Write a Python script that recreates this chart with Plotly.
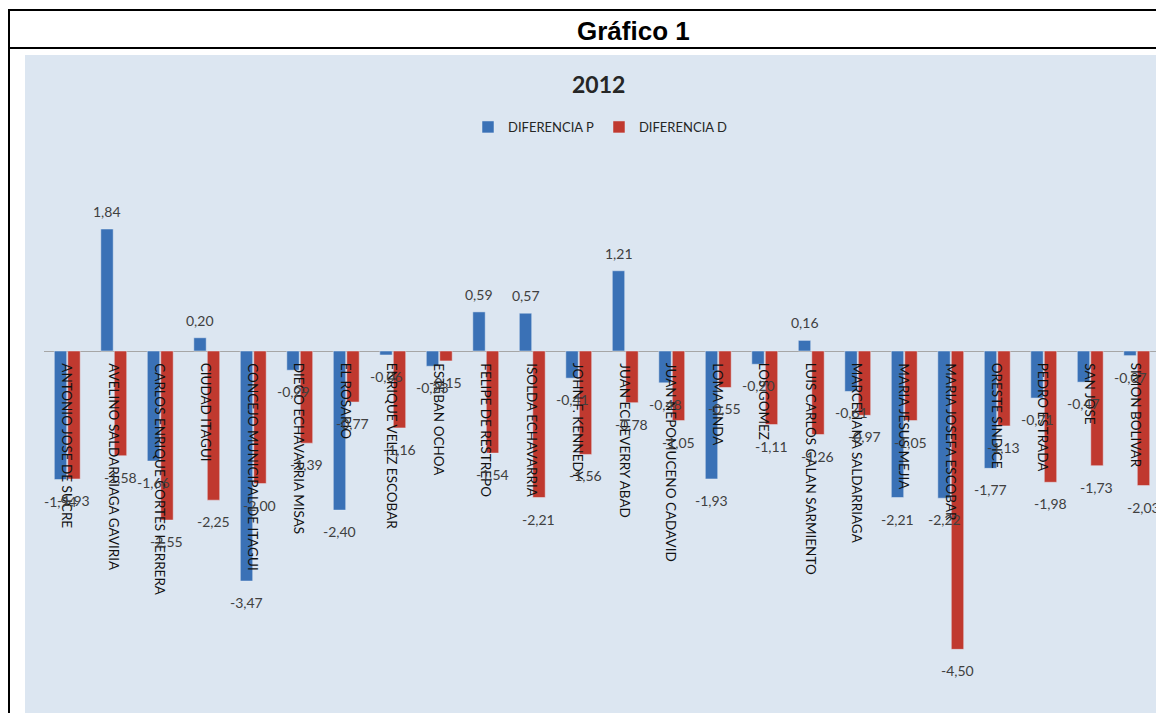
import plotly.graph_objects as go

categories = [
    "ANTONIO JOSE DE SUCRE", "AVELINO SALDARRIAGA GAVIRIA", "CARLOS ENRIQUE CORTES HERRERA",
    "CIUDAD ITAGUI", "CONCEJO MUNICIPAL DE ITAGUI", "DIEGO ECHAVARRIA MISAS", "EL ROSARIO",
    "ENRIQUE VELEZ ESCOBAR", "ESTEBAN OCHOA", "FELIPE DE RESTREPO", "ISOLDA ECHAVARRIA",
    "JOHN F. KENNEDY", "JUAN ECHEVERRY ABAD", "JUAN NEPOMUCENO CADAVID", "LOMA LINDA",
    "LOS GOMEZ", "LUIS CARLOS GALAN SARMIENTO", "MARCELIANA SALDARRIAGA", "MARIA JESUS MEJIA",
    "MARIA JOSEFA ESCOBAR", "ORESTE SINDICE", "PEDRO ESTRADA", "SAN JOSE", "SIMON BOLIVAR",
]
diferencia_p = [-1.94, 1.84, -1.66, 0.20, -3.47, -0.29, -2.40, -0.06, -0.23, 0.59, 0.57, -0.41,
                1.21, -0.48, -1.93, -0.20, 0.16, -0.61, -2.21, -2.22, -1.77, -0.71, -0.47, -0.07]
diferencia_d = [-1.93, -1.58, -2.55, -2.25, -2.00, -1.39, -0.77, -1.16, -0.15, -1.54, -2.21, -1.56,
                -0.78, -1.05, -0.55, -1.11, -1.26, -0.97, -1.05, -4.50, -1.13, -1.98, -1.73, -2.03]

W, H = 1156, 713


def px(x):
    return x / W


def py(y):
    return 1 - y / H


BLUE = "#3a71b6"
RED = "#c0392f"
FONT = "Lato, Open Sans, sans-serif"
LBL = dict(family=FONT, size=14, color="#404040")

idx = list(range(len(categories)))
BARGAP = 0.42
half_slot = (1 - BARGAP) / 4  # centre offset of each bar inside a group

fig = go.Figure()
fig.add_trace(go.Bar(name="DIFERENCIA P", x=idx, y=diferencia_p, marker_color=BLUE,
                     textposition="none", hoverinfo="y"))
fig.add_trace(go.Bar(name="DIFERENCIA D", x=idx, y=diferencia_d, marker_color=RED,
                     textposition="none", hoverinfo="y"))

zero_px = 351
ppu = 66.3
y_top = zero_px / ppu
y_bot = -(H - zero_px) / ppu

left_px = 44
group_w = 46.5
x_end = -0.5 + (W - left_px) / group_w

fig.update_layout(
    width=W, height=H,
    margin=dict(l=0, r=0, t=0, b=0),
    paper_bgcolor="white",
    plot_bgcolor="rgba(0,0,0,0)",
    separators=",.",
    barmode="group", bargap=BARGAP, bargroupgap=0.08,
    showlegend=True,
    legend=dict(orientation="h", x=px(600), xanchor="center", y=py(127), yanchor="middle",
                font=dict(family=FONT, size=13, color="#262626"),
                bgcolor="rgba(0,0,0,0)", traceorder="normal"),
    xaxis=dict(domain=[px(left_px), 1], range=[-0.5, x_end], showticklabels=False,
               showgrid=False, zeroline=False, fixedrange=True),
    yaxis=dict(domain=[0, 1], range=[y_bot, y_top], showticklabels=False, showgrid=False,
               zeroline=True, zerolinecolor="#a6a6a6", zerolinewidth=1.2, fixedrange=True),
)

shapes = [
    dict(type="rect", xref="paper", yref="paper", x0=px(25), x1=1.0, y0=0, y1=py(55),
         fillcolor="#dce6f1", line=dict(width=0), layer="below"),
    dict(type="line", xref="paper", yref="paper", x0=px(8), x1=1.0, y0=py(10), y1=py(10),
         line=dict(color="black", width=2)),
    dict(type="line", xref="paper", yref="paper", x0=px(8), x1=1.0, y0=py(48), y1=py(48),
         line=dict(color="black", width=2)),
    dict(type="line", xref="paper", yref="paper", x0=px(9), x1=px(9), y0=0, y1=py(10),
         line=dict(color="black", width=2)),
]
fig.update_layout(shapes=shapes)

annotations = [
    dict(text="<b>Gráfico 1</b>", xref="paper", yref="paper", x=px(633), y=py(31),
         xanchor="center", yanchor="middle", showarrow=False,
         font=dict(family="Liberation Sans, Arial, sans-serif", size=26, color="black")),
    dict(text="<b>2012</b>", xref="paper", yref="paper", x=px(598), y=py(84),
         xanchor="center", yanchor="middle", showarrow=False,
         font=dict(family=FONT, size=23, color="#262626")),
]
for i, c in enumerate(categories):
    annotations.append(dict(text=c, x=i, y=0, xref="x", yref="y", xanchor="center", yanchor="top",
                            yshift=-10, textangle=90, showarrow=False,
                            font=dict(family=FONT, size=13.5, color="#111111")))


def fmt(v):
    return f"{v:.2f}".replace(".", ",")


for vals, sign in ((diferencia_p, -1), (diferencia_d, 1)):
    for i, v in enumerate(vals):
        pos = v >= 0
        annotations.append(dict(text=fmt(v), x=i + sign * half_slot, y=v, xref="x", yref="y",
                                xanchor="center", yanchor="bottom" if pos else "top",
                                yshift=7 if pos else -11, showarrow=False, font=LBL))
fig.update_layout(annotations=annotations)

fig.write_html(
    "out.html",
    config={"displayModeBar": False},
    post_script="document.body.style.margin='0';document.body.style.overflow='hidden';",
)
